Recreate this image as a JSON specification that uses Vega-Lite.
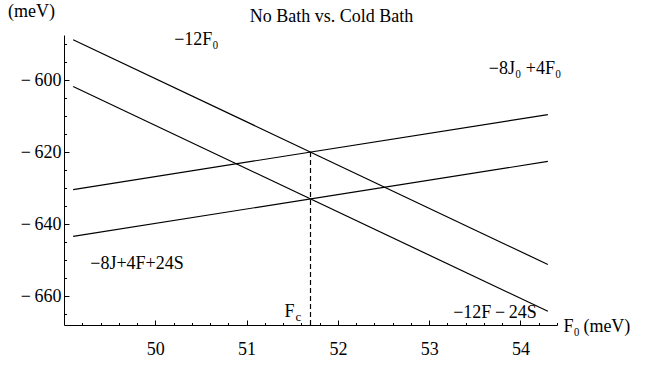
{
  "$schema": "https://vega.github.io/schema/vega-lite/v6.json",
  "autosize": "none",
  "width": 493,
  "height": 290,
  "padding": {"left": 64, "top": 35, "right": 92, "bottom": 41},
  "background": "white",
  "config": {
    "view": {"stroke": null},
    "font": "Liberation Serif",
    "axis": {"grid": false, "domainColor": "black", "tickColor": "black", "labelColor": "black", "titleColor": "black", "labelFont": "Liberation Serif", "titleFont": "Liberation Serif", "labelFontSize": 18, "titleFontSize": 18, "titleFontWeight": "normal", "domainWidth": 1, "tickWidth": 1}
  },
  "title": {"text": "No Bath vs. Cold Bath", "font": "Liberation Serif", "fontSize": 18, "fontWeight": "normal", "color": "black", "anchor": "middle", "dx": 21, "offset": -24},
  "datasets": {
    "lines": [
      {"series": "A", "F": 49.1, "E": -588.8},
      {"series": "A", "F": 54.3, "E": -651.2},
      {"series": "B", "F": 49.1, "E": -630.4},
      {"series": "B", "F": 54.3, "E": -609.6},
      {"series": "C", "F": 49.1, "E": -601.8},
      {"series": "C", "F": 54.3, "E": -664.2},
      {"series": "D", "F": 49.1, "E": -643.4},
      {"series": "D", "F": 54.3, "E": -622.6}
    ],
    "fc": [{"F": 51.7, "E": -668, "E2": -620}],
    "labels": [
      {"t": "−12F₀", "F": 50.45, "E": -589.0},
      {"t": "−8J₀ +4F₀", "F": 54.05, "E": -597.0},
      {"t": "−8J+4F+24S", "F": 49.8, "E": -651.2},
      {"t": "−12F\u2009−\u200924S", "F": 53.72, "E": -664.6},
      {"t": "F", "F": 51.47, "E": -664.4}
    ],
    "sub": [{"t": "c", "F": 51.47, "E": -664.4}]
  },
  "resolve": {"axis": {"x": "independent", "y": "independent"}},
  "layer": [
    {
      "data": {"name": "lines"},
      "mark": {"type": "line", "color": "black", "strokeWidth": 1.2},
      "encoding": {
        "x": {"field": "F", "type": "quantitative", "scale": {"domain": [49.0, 54.4], "nice": false, "zero": false},
          "axis": {"values": [50, 51, 52, 53, 54], "tickSize": -5, "labelPadding": 20, "title": "F₀\u2009(meV)", "titleX": 499, "titleY": 1, "titleAlign": "left", "titleBaseline": "middle", "titleAngle": 0, "orient": "bottom"}},
        "y": {"field": "E", "type": "quantitative", "scale": {"domain": [-668, -587.5], "nice": false, "zero": false},
          "axis": {"values": [-600, -620, -640, -660], "tickSize": -5, "labelPadding": 8, "labelExpr": "replace(datum.label, '−', '−\u2009')", "title": "(meV)", "titleX": -33, "titleY": -24, "titleAngle": 0, "titleAlign": "center", "titleBaseline": "middle", "orient": "left"}},
        "detail": {"field": "series"}
      }
    },
    {
      "data": {"name": "fc"},
      "mark": {"type": "rule", "color": "black", "strokeDash": [5, 3], "strokeWidth": 1.2},
      "encoding": {
        "x": {"field": "F", "type": "quantitative", "axis": {"values": [49.2, 49.4, 49.6, 49.8, 50.2, 50.4, 50.6, 50.8, 51.2, 51.4, 51.6, 51.8, 52.2, 52.4, 52.6, 52.8, 53.2, 53.4, 53.6, 53.8, 54.2, 54.4], "tickSize": -2.5, "labels": false, "domain": false, "title": null, "orient": "bottom"}},
        "y": {"field": "E", "type": "quantitative", "axis": {"values": [-590, -595, -605, -610, -615, -625, -630, -635, -645, -650, -655, -665], "tickSize": -2.5, "labels": false, "domain": false, "title": null, "orient": "left"}},
        "y2": {"field": "E2"}
      }
    },
    {
      "data": {"name": "labels"},
      "mark": {"type": "text", "font": "Liberation Serif", "fontSize": 18, "color": "black", "align": "center", "baseline": "middle"},
      "encoding": {
        "x": {"field": "F", "type": "quantitative", "axis": null},
        "y": {"field": "E", "type": "quantitative", "axis": null},
        "text": {"field": "t"}
      }
    },
    {
      "data": {"name": "sub"},
      "mark": {"type": "text", "font": "Liberation Serif", "fontSize": 13, "color": "black", "align": "left", "baseline": "middle", "dx": 6, "dy": 5},
      "encoding": {
        "x": {"field": "F", "type": "quantitative", "axis": null},
        "y": {"field": "E", "type": "quantitative", "axis": null},
        "text": {"field": "t"}
      }
    }
  ]
}
